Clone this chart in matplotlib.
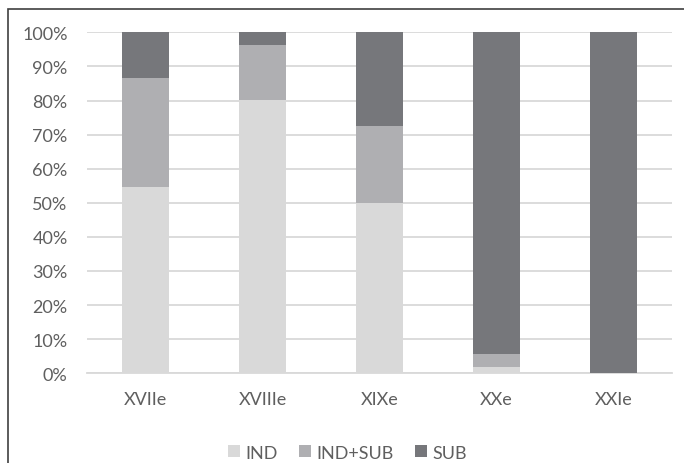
import numpy as np
import matplotlib.pyplot as plt
from matplotlib.patches import Rectangle

plt.rcParams['font.family'] = ['Lato', 'DejaVu Sans']

#Data
siecles = ['XVIIe', 'XVIIIe', 'XIXe', 'XXe', 'XXIe']
ind = [54.7, 80.2, 50.0, 1.8, 0.0]
ind_sub = [32.0, 16.2, 22.5, 3.8, 0.0]
sub = [13.3, 3.6, 27.5, 94.4, 100.0]
yticks = [0, 10, 20, 30, 40, 50, 60, 70, 80, 90, 100]

txt = '#5f5f5f'
fig = plt.figure(figsize=(6.84, 4.64), dpi=100)
ax = fig.add_axes([87/684, 1-374.3/464, 585/684, 341/464])

x = np.arange(len(siecles))
w = 0.4
ax.bar(x, ind, w, color='#d9d9d9', label='IND', zorder=3)
ax.bar(x, ind_sub, w, bottom=ind, color='#afafb2', label='IND+SUB', zorder=3)
bot = np.array(ind) + np.array(ind_sub)
ax.bar(x, sub, w, bottom=bot, color='#76777b', label='SUB', zorder=3)

ax.set_xlim(-0.5, len(siecles)-0.5)
ax.set_ylim(0, 100)
ax.set_yticks(yticks)
ax.set_yticklabels([str(t) + '%' for t in yticks])
ax.set_xticks(x)
ax.set_xticklabels(siecles)
ax.yaxis.grid(True, color='#d9d9d9', linewidth=1.3, zorder=0)
ax.tick_params(length=0, labelsize=13, colors=txt)
ax.tick_params(axis='y', pad=14)
ax.tick_params(axis='x', pad=13)
for s in ['top', 'right', 'left']:
    ax.spines[s].set_visible(False)
ax.spines['bottom'].set_color('#d9d9d9')
ax.spines['bottom'].set_linewidth(1.3)

fig.legend(loc='lower center', bbox_to_anchor=(0.508, -0.03), ncol=3, frameon=False,
           fontsize=13, labelcolor=txt, handlelength=0.65, handleheight=0.65,
           handletextpad=0.3, columnspacing=1.2)

# cadre autour du graphique
fig.patches.append(Rectangle((8/684, -0.1), 1.2, 1.1 - 10/464, transform=fig.transFigure,
                             fill=False, edgecolor='#404040', linewidth=1.2))

plt.savefig('out.png', dpi=100)
